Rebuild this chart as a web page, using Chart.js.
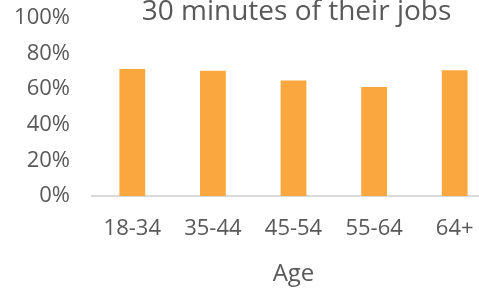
<!DOCTYPE html>
<html>
<head>
<meta charset="utf-8">
<script src="https://cdn.jsdelivr.net/npm/chart.js@4"></script>
<style>
  html, body { margin: 0; padding: 0; background: #fff; overflow: hidden; }
  #wrap { position: relative; width: 495px; height: 289px; }
  #title {
    position: absolute; left: 0; width: 593px; top: -8px; text-align: center;
    font: 28px "Open Sans", sans-serif; color: #595959; line-height: 34px; white-space: nowrap;
  }
</style>
</head>
<body>
<div id="wrap">
  <canvas id="chart" width="495" height="289"></canvas>
  <div id="title">30 minutes of their jobs</div>
</div>
<script>
const ageGroups = ['18-34', '35-44', '45-54', '55-64', '64+'];
const shareValues = [71.3, 70.3, 64.9, 61.3, 70.7];
const yTicks = [0, 20, 40, 60, 80, 100];

const textColor = '#595959';
const tickFont = { family: 'Open Sans', size: 22 };

new Chart(document.getElementById('chart').getContext('2d'), {
  type: 'bar',
  data: {
    labels: ageGroups,
    datasets: [{
      data: shareValues,
      backgroundColor: '#F9A73E',
      categoryPercentage: 1,
      barPercentage: 0.32,
    }],
  },
  options: {
    responsive: false,
    animation: false,
    layout: { padding: { top: 18, right: 0, bottom: 0, left: 0 } },
    plugins: { legend: { display: false }, tooltip: { enabled: false } },
    scales: {
      x: {
        grid: { display: false, drawTicks: false },
        border: { display: true, color: '#D9D9D9', width: 2 },
        ticks: { color: textColor, font: tickFont, padding: 20, maxRotation: 0 },
        title: { display: true, text: 'Age', color: textColor, font: { family: 'Open Sans', size: 24 }, padding: { top: 0, bottom: 0 } },
        afterFit: s => { s.height = 93; s.paddingLeft = 0; s.paddingRight = 0; },
      },
      y: {
        min: 0, max: 100,
        afterBuildTicks: s => { s.ticks = yTicks.map(v => ({ value: v })); },
        grid: { display: false, drawTicks: false },
        border: { display: false },
        ticks: { color: textColor, font: tickFont, padding: 22, callback: v => v + '%' },
        // keep the label padding from pushing the plot area down
        afterFit: s => { s.width = 92; s.paddingTop = 0; s.paddingBottom = 0; },
      },
    },
  },
});
</script>
</body>
</html>
